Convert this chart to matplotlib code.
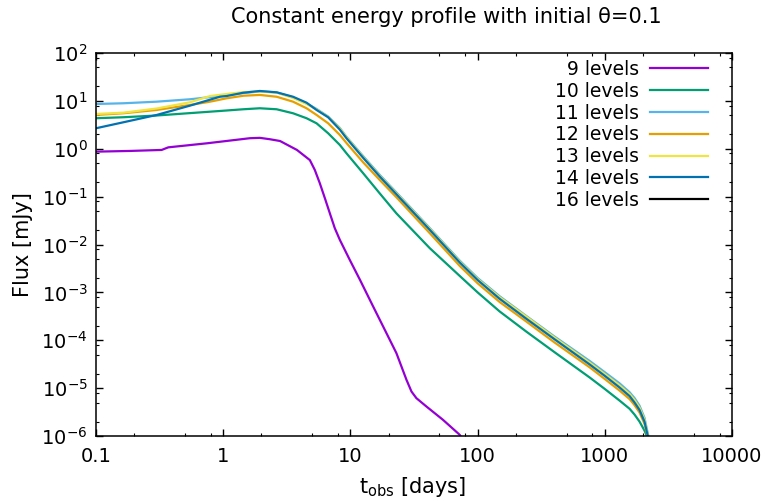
import numpy as np
import matplotlib
matplotlib.use('Agg')
import matplotlib.pyplot as plt
from matplotlib.ticker import FixedLocator, FixedFormatter, LogLocator, NullFormatter

plt.rcParams['font.family'] = ['DejaVu Sans']
plt.rcParams['axes.unicode_minus'] = False
plt.rcParams['mathtext.default'] = 'regular'

# light curves (t in days, flux in mJy)
t_9 = [0.1, 0.185, 0.328, 0.370, 0.745, 1.62, 1.94, 2.33, 2.8, 3.8, 4.8, 5.25, 5.75, 6.30,
       6.89, 7.54, 8.26, 9.89, 11.9, 15.1, 19.2, 23.0, 27.6, 30.2, 33.0, 39.6, 53.4, 72.3, 76.0]
f_9 = [0.87, 0.90, 0.944, 1.07, 1.30, 1.66, 1.69, 1.58, 1.45, 0.944, 0.58, 0.361, 0.19, 0.0927,
       0.045, 0.0219, 0.0125, 4.76e-3, 1.82e-3, 5.06e-4, 1.41e-4, 5.38e-5, 1.49e-5, 8.5e-6,
       6.18e-6, 4.13e-6, 2.18e-6, 1.06e-6, 8.5e-7]

t_10 = [0.1, 0.164, 0.30, 0.942, 1.44, 1.94, 2.63, 3.54, 4.52, 5.42, 6.68, 8.26, 9.31, 12.6,
        17.0, 23.0, 42.1, 72.3, 100, 149, 242, 400, 760, 1000, 1306, 1567, 1714, 1875, 2051,
        2183, 2250]
f_10 = [4.34, 4.55, 4.95, 6.15, 6.68, 7.01, 6.68, 5.51, 4.34, 3.40, 2.11, 1.20, 0.805, 0.308,
        0.117, 0.0447, 8.37e-3, 2.21e-3, 1.0e-3, 4.0e-4, 1.51e-4, 5.7e-5, 1.67e-5, 9.6e-6,
        5.5e-6, 3.7e-6, 2.8e-6, 2.0e-6, 1.3e-6, 9.0e-7, 5e-7]

t_11 = [0.1, 0.164, 0.30, 0.547, 0.942, 1.44, 1.94, 2.63, 3.54, 4.52, 5.42, 6.68, 8.26, 9.31,
        12.6, 17.0, 23.0, 42.1, 72.3, 100, 149, 242, 400, 760, 1000, 1306, 1567, 1714, 1875,
        2051, 2200, 2260]
f_11 = [8.61, 8.91, 9.62, 10.8, 12.6, 14.6, 15.7, 15.0, 11.8, 8.83, 6.78, 4.72, 2.72, 1.78,
        0.70, 0.285, 0.122, 0.0220, 4.61e-3, 2.0e-3, 8.3e-4, 3.2e-4, 1.21e-4, 3.7e-5, 2.15e-5,
        1.26e-5, 8.2e-6, 6.2e-6, 4.3e-6, 2.4e-6, 1.0e-6, 5e-7]

t_12 = [0.1, 0.164, 0.30, 0.547, 0.787, 1.06, 1.44, 1.94, 2.63, 3.54, 4.52, 5.42, 6.68, 8.26,
        9.31, 12.6, 17.0, 23.0, 42.1, 72.3, 100, 149, 242, 400, 760, 1000, 1306, 1567, 1714,
        1875, 2051, 2170, 2240]
f_12 = [5.08, 5.51, 6.46, 8.2, 9.62, 11.3, 12.8, 13.3, 12.2, 9.62, 7.01, 5.08, 3.41, 1.94,
        1.32, 0.52, 0.223, 0.097, 0.0172, 3.58e-3, 1.55e-3, 6.3e-4, 2.45e-4, 9.1e-5, 2.72e-5,
        1.55e-5, 8.9e-6, 5.9e-6, 4.4e-6, 3.1e-6, 1.8e-6, 9.8e-7, 5e-7]

t_13 = [0.1, 0.164, 0.30, 0.547, 0.787, 1.06, 1.44, 1.94, 2.63, 3.54, 4.52, 5.42, 6.68, 8.26,
        9.31, 12.6, 17.0, 23.0, 42.1, 72.3, 100, 149, 242, 400, 760, 1000, 1306, 1567, 1714,
        1875, 2051, 2190, 2250]
f_13 = [5.33, 5.67, 6.93, 9.35, 12.6, 13.9, 15.3, 15.7, 15.0, 11.5, 8.61, 6.61, 4.61, 2.65,
        1.74, 0.67, 0.272, 0.117, 0.0212, 4.41e-3, 1.9e-3, 7.9e-4, 3.1e-4, 1.15e-4, 3.4e-5,
        1.96e-5, 1.14e-5, 7.5e-6, 5.6e-6, 3.9e-6, 2.2e-6, 1.0e-6, 5e-7]

t_14 = [0.1, 0.164, 0.30, 0.547, 0.942, 1.06, 1.44, 1.94, 2.63, 3.54, 4.52, 5.42, 6.68, 8.26,
        9.31, 12.6, 17.0, 23.0, 42.1, 72.3, 100, 149, 242, 400, 760, 1000, 1306, 1567, 1714,
        1875, 2051, 2183, 2250]
f_14 = [2.68, 3.57, 5.08, 7.94, 12.2, 12.6, 14.8, 16.1, 15.1, 12.2, 9.17, 6.46, 4.55, 2.51,
        1.66, 0.646, 0.263, 0.112, 0.0202, 4.21e-3, 1.81e-3, 7.33e-4, 2.80e-4, 1.06e-4, 3.12e-5,
        1.80e-5, 1.03e-5, 6.8e-6, 5.0e-6, 3.5e-6, 2.0e-6, 9.8e-7, 5e-7]

# 16 levels appears only in the key
t_16 = []
f_16 = []

labels = ['9 levels', '10 levels', '11 levels', '12 levels', '13 levels', '14 levels', '16 levels']
colors = ['#9400d3', '#009e73', '#56b4e9', '#e69f00', '#f0e442', '#0072b2', '#000000']
xticks = [0.1, 1, 10, 100, 1000, 10000]
xticklabels = ['0.1', '1', '10', '100', '1000', '10000']

series = [(t_9, f_9), (t_10, f_10), (t_11, f_11), (t_12, f_12), (t_13, f_13), (t_14, f_14), (t_16, f_16)]

fig = plt.figure(figsize=(7.68, 5.01), dpi=100)
ax = fig.add_axes([96/768, 65/501, 636/768, 383/501])

for (t, f), lab, c in zip(series, labels, colors):
    ax.plot(t, f, color=c, lw=1.6, label=lab)

ax.set_xscale('log')
ax.set_yscale('log')
ax.set_xlim(0.1, 10000)
ax.set_ylim(1e-6, 1e2)

ax.xaxis.set_major_locator(FixedLocator(xticks))
ax.xaxis.set_major_formatter(FixedFormatter(xticklabels))
ax.xaxis.set_minor_locator(LogLocator(base=10, subs=(2, 5, 8), numticks=20))
ax.xaxis.set_minor_formatter(NullFormatter())
ax.yaxis.set_major_locator(LogLocator(base=10, numticks=20))
ax.yaxis.set_minor_locator(LogLocator(base=10, subs=(2, 5, 8), numticks=20))
ax.yaxis.set_minor_formatter(NullFormatter())

ax.tick_params(which='both', direction='in', top=True, right=True, labelsize=14)
ax.tick_params(which='major', length=5, width=1)
ax.tick_params(which='minor', length=2.3, width=0.8)
ax.tick_params(axis='y', which='major', pad=6)
ax.tick_params(axis='x', which='major', pad=8)
for s in ax.spines.values():
    s.set_linewidth(1.1)

ax.set_ylabel('Flux [mJy]', fontsize=15, labelpad=6)
fig.text(413/768, 1 - 487/501, r't$_{obs}$ [days]', fontsize=15, ha='center', va='center')
fig.text(446/768, 1 - 17/501, 'Constant energy profile with initial θ=0.1', fontsize=15,
         ha='center', va='center')

ax.legend(loc='upper right', bbox_to_anchor=(0.962, 0.982), frameon=False, markerfirst=False,
          fontsize=13.5, handlelength=3.1, handletextpad=0.55, labelspacing=0.15,
          borderpad=0, borderaxespad=0)

fig.savefig('out.png', dpi=100)
